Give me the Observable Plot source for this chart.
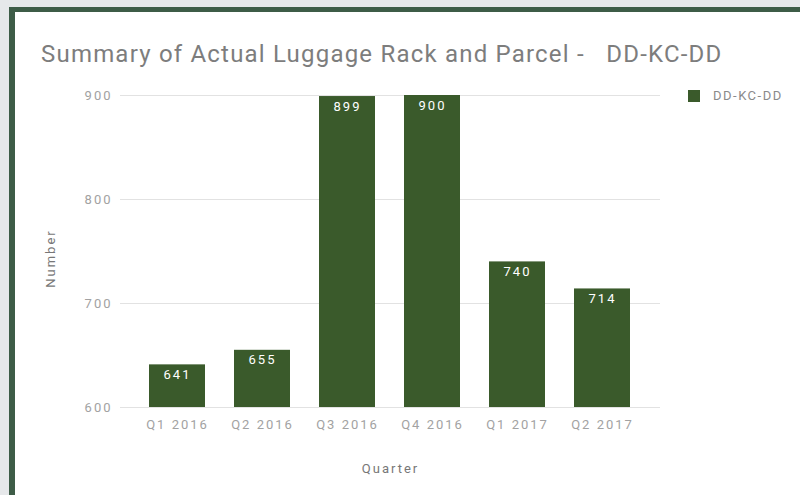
<!DOCTYPE html>
<html>
<head>
<meta charset="utf-8">
<script src="https://cdn.jsdelivr.net/npm/d3@7"></script>
<script src="https://cdn.jsdelivr.net/npm/@observablehq/plot@0.6"></script>
<style>
  html, body { margin: 0; padding: 0; }
  body { width: 800px; height: 495px; background: #e6e8ea; position: relative; overflow: hidden; font-family: Roboto, sans-serif; }
  #card { position: absolute; left: 9px; top: 7px; right: 0; bottom: 0; background: #fff; border-left: 6px solid #3d5c47; border-top: 5px solid #3d5c47; }
  #title { position: absolute; left: 41px; top: 40px; font-size: 24px; color: #7d7d7d; white-space: pre; letter-spacing: 1.2px; }
  #legend { position: absolute; left: 688px; top: 88px; font-size: 13px; color: #8a8a8a; display: flex; align-items: center; letter-spacing: 1.5px; }
  #legend span.sw { display: inline-block; width: 12px; height: 12px; background: #3a5a2b; margin-right: 13px; }
  #chart { position: absolute; left: 0; top: 0; }
</style>
</head>
<body>
<div id="card"></div>
<div id="title">Summary of Actual Luggage Rack and Parcel -   DD-KC-DD</div>
<div id="legend"><span class="sw"></span><span>DD-KC-DD</span></div>
<div id="chart"></div>
<script>
const quarters = ["Q1 2016", "Q2 2016", "Q3 2016", "Q4 2016", "Q1 2017", "Q2 2017"];
const values = [641, 655, 899, 900, 740, 714];
const yTicks = [600, 700, 800, 900];
const seriesName = "DD-KC-DD";

const data = quarters.map((q, i) => ({quarter: q, value: values[i]}));
const barColor = "#3a5a2b";

const plot = Plot.plot({
  width: 800,
  height: 495,
  marginLeft: 120,
  marginRight: 140,
  marginTop: 95,
  marginBottom: 88,
  style: {background: "transparent", fontFamily: "Roboto, sans-serif", fontSize: "13px", color: "#999", letterSpacing: "2px"},
  x: {domain: quarters, paddingInner: 0.345, paddingOuter: 0.1725, insetLeft: 13, insetRight: 14},
  y: {domain: [600, 900]},
  marks: [
    Plot.ruleY(yTicks, {stroke: "#e2e2e2", strokeWidth: 1}),
    Plot.barY(data, {x: "quarter", y1: 600, y2: "value", fill: barColor}),
    Plot.text(data, {x: "quarter", y: "value", text: d => String(d.value), fill: "#fff", dy: 10, fontSize: 13}),
    Plot.axisY(yTicks, {tickSize: 0, tickPadding: 8, label: null, fill: "#a2a2a2", fontSize: 13}),
    Plot.axisX({tickSize: 0, tickPadding: 12, label: null, fill: "#a2a2a2", fontSize: 13}),
    Plot.text(["Quarter"], {frameAnchor: "bottom", dy: 65, fill: "#777", fontSize: 13}),
    Plot.text(["Number"], {frameAnchor: "left", textAnchor: "middle", dx: -70, dy: 7, rotate: -90, fill: "#777", fontSize: 13})
  ]
});
document.getElementById("chart").appendChild(plot);
</script>
</body>
</html>
